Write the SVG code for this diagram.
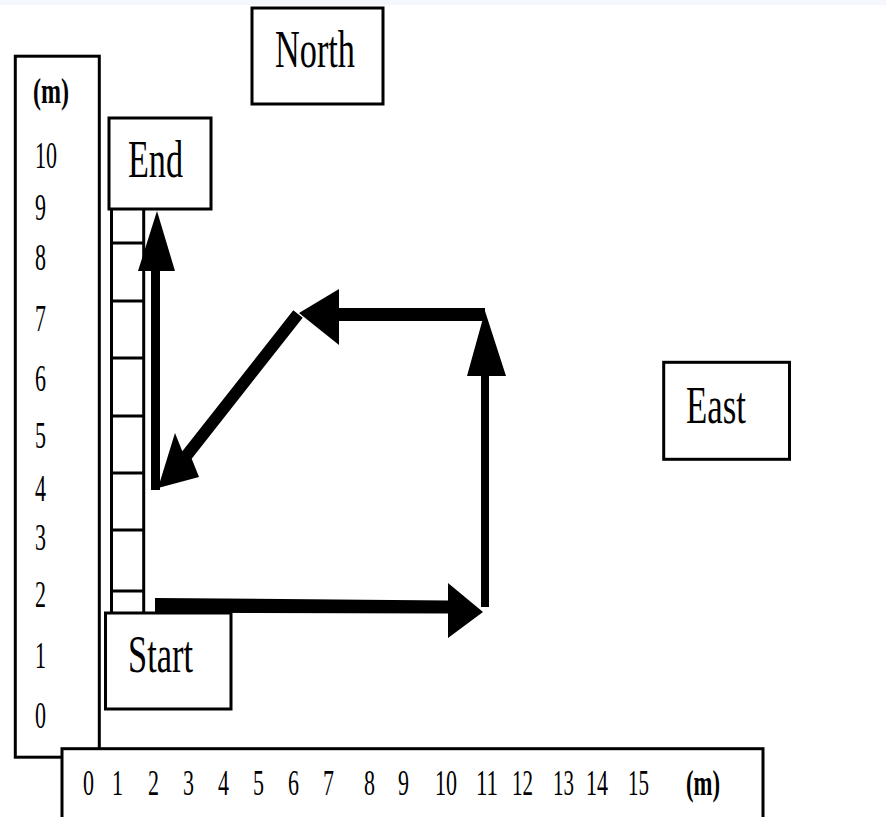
<svg xmlns="http://www.w3.org/2000/svg" width="886" height="817" viewBox="0 0 886 817">
<style>
.box{fill:#fff;stroke:#000;stroke-width:3}
.lbl{font-family:"Liberation Serif","Times New Roman",serif;font-size:53px;fill:#000}
.num{font-family:"Liberation Serif","Times New Roman",serif;font-size:37px;fill:#000}
.numb{font-family:"Liberation Serif","Times New Roman",serif;font-size:35px;fill:#000}
.unit{font-family:"Liberation Serif","Times New Roman",serif;font-size:35px;font-weight:bold;fill:#000}
.lad{stroke:#000;stroke-width:3;fill:none}
.arr{fill:#000;stroke:none}
</style>
<rect x="0" y="0" width="886" height="817" fill="#fff"/>
<rect x="0" y="0" width="886" height="5" fill="#f4f8fd"/>

<g id="y-axis">
<rect class="box" x="15.3" y="56.2" width="84" height="701"/>
<text class="unit" x="33" y="103" textLength="36" lengthAdjust="spacingAndGlyphs">(m)</text>
<text class="num" x="35" y="168" textLength="22" lengthAdjust="spacingAndGlyphs">10</text>
<text class="num" x="35" y="220" textLength="11" lengthAdjust="spacingAndGlyphs">9</text>
<text class="num" x="35" y="270" textLength="11" lengthAdjust="spacingAndGlyphs">8</text>
<text class="num" x="35" y="331" textLength="11" lengthAdjust="spacingAndGlyphs">7</text>
<text class="num" x="35" y="391" textLength="11" lengthAdjust="spacingAndGlyphs">6</text>
<text class="num" x="35" y="448" textLength="11" lengthAdjust="spacingAndGlyphs">5</text>
<text class="num" x="35" y="501" textLength="11" lengthAdjust="spacingAndGlyphs">4</text>
<text class="num" x="35" y="550" textLength="11" lengthAdjust="spacingAndGlyphs">3</text>
<text class="num" x="35" y="607" textLength="11" lengthAdjust="spacingAndGlyphs">2</text>
<text class="num" x="35" y="668" textLength="11" lengthAdjust="spacingAndGlyphs">1</text>
<text class="num" x="35" y="728" textLength="11" lengthAdjust="spacingAndGlyphs">0</text>
</g>

<g id="x-axis">
<rect class="box" x="62" y="748.7" width="701" height="90"/>
<text class="numb" x="83" y="795" textLength="11" lengthAdjust="spacingAndGlyphs">0</text>
<text class="numb" x="112" y="795" textLength="11" lengthAdjust="spacingAndGlyphs">1</text>
<text class="numb" x="148" y="795" textLength="11" lengthAdjust="spacingAndGlyphs">2</text>
<text class="numb" x="183" y="795" textLength="11" lengthAdjust="spacingAndGlyphs">3</text>
<text class="numb" x="218" y="795" textLength="11" lengthAdjust="spacingAndGlyphs">4</text>
<text class="numb" x="253" y="795" textLength="11" lengthAdjust="spacingAndGlyphs">5</text>
<text class="numb" x="288" y="795" textLength="11" lengthAdjust="spacingAndGlyphs">6</text>
<text class="numb" x="323" y="795" textLength="11" lengthAdjust="spacingAndGlyphs">7</text>
<text class="numb" x="364" y="795" textLength="11" lengthAdjust="spacingAndGlyphs">8</text>
<text class="numb" x="398" y="795" textLength="11" lengthAdjust="spacingAndGlyphs">9</text>
<text class="numb" x="435" y="795" textLength="22" lengthAdjust="spacingAndGlyphs">10</text>
<text class="numb" x="476" y="795" textLength="22" lengthAdjust="spacingAndGlyphs">11</text>
<text class="numb" x="512" y="795" textLength="21" lengthAdjust="spacingAndGlyphs">12</text>
<text class="numb" x="553" y="795" textLength="21" lengthAdjust="spacingAndGlyphs">13</text>
<text class="numb" x="586" y="795" textLength="22" lengthAdjust="spacingAndGlyphs">14</text>
<text class="numb" x="628" y="795" textLength="21" lengthAdjust="spacingAndGlyphs">15</text>
<text class="unit" x="686" y="795" textLength="34" lengthAdjust="spacingAndGlyphs">(m)</text>
</g>

<g id="ladder">
<line class="lad" x1="111.5" y1="209" x2="111.5" y2="613"/>
<line class="lad" x1="143.7" y1="209" x2="143.7" y2="613"/>
<line class="lad" x1="111.5" y1="243" x2="143.7" y2="243"/>
<line class="lad" x1="111.5" y1="301" x2="143.7" y2="301"/>
<line class="lad" x1="111.5" y1="358" x2="143.7" y2="358"/>
<line class="lad" x1="111.5" y1="416" x2="143.7" y2="416"/>
<line class="lad" x1="111.5" y1="473" x2="143.7" y2="473"/>
<line class="lad" x1="111.5" y1="530" x2="143.7" y2="530"/>
<line class="lad" x1="111.5" y1="591" x2="143.7" y2="591"/>
</g>

<g id="north">
<rect class="box" x="252" y="8" width="131" height="96"/>
<text class="lbl" x="275" y="67" textLength="80" lengthAdjust="spacingAndGlyphs">North</text>
</g>

<g id="end">
<rect class="box" x="109" y="118" width="102" height="91"/>
<text class="lbl" x="128" y="177" textLength="55" lengthAdjust="spacingAndGlyphs">End</text>
</g>

<g id="start">
<rect class="box" x="105.5" y="613" width="125.5" height="96"/>
<text class="lbl" x="128" y="672" textLength="65" lengthAdjust="spacingAndGlyphs">Start</text>
</g>

<g id="east">
<rect class="box" x="663.7" y="362.3" width="125.8" height="97"/>
<text class="lbl" x="686" y="423" textLength="60" lengthAdjust="spacingAndGlyphs">East</text>
</g>

<g id="connectors">
<path class="arr" d="M155,598 L448,600.5 L448,583 L483,612 L448,638 L448,613.5 L155,612.7 Z"/>
<path class="arr" d="M481,607 L481,376 L467,376 L485,311 L506,376 L489,376 L489,607 Z"/>
<path class="arr" d="M485,308 L485,321 L339,321 L339,345 L299,313 L339,289 L339,308 Z"/>
<path class="arr" d="M293.3,310.3 L302.7,317.7 L191.7,458.7 L199,477 L158,488 L175,433 L182.3,451.3 Z"/>
<path class="arr" d="M151,490 L151,271 L138,271 L157,211 L175,271 L160,271 L160,490 Z"/>
</g>
</svg>
